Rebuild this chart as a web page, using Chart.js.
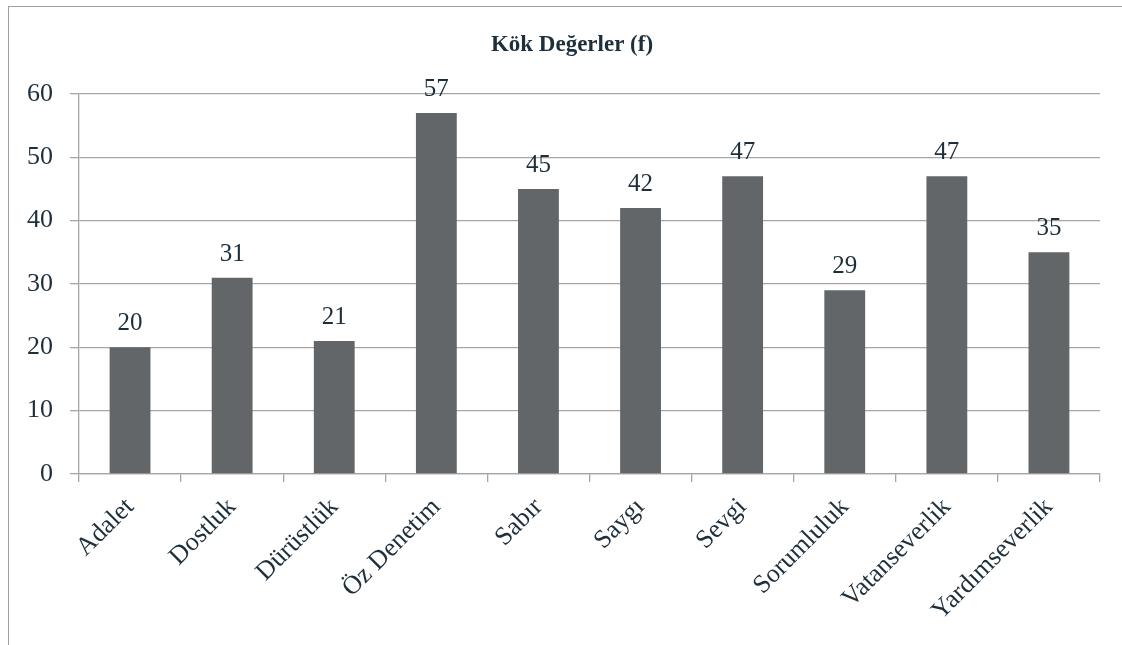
<!DOCTYPE html>
<html>
<head>
<meta charset="utf-8">
<script src="https://cdn.jsdelivr.net/npm/chart.js@4"></script>
<style>
  html, body { margin: 0; padding: 0; background: #fff; overflow: hidden; }
  #frame {
    position: absolute; left: 8px; top: 6px; width: 1130px; height: 660px;
    border-top: 1.5px solid #a0a0a0; border-left: 1.5px solid #a0a0a0;
  }
  #wrap { position: absolute; left: 0; top: 0; width: 1122px; height: 645px; }
</style>
</head>
<body>
<div id="frame"></div>
<div id="wrap"><canvas id="chart" width="1122" height="645"></canvas></div>
<script>
// ------------------------------
// Data
// ------------------------------
const categories = ["Adalet", "Dostluk", "Dürüstlük", "Öz Denetim", "Sabır", "Saygı", "Sevgi", "Sorumluluk", "Vatanseverlik", "Yardımseverlik"];
const counts = [20, 31, 21, 57, 45, 42, 47, 29, 47, 35];
const yTicks = [0, 10, 20, 30, 40, 50, 60];
const chartTitle = "Kök Değerler (f)";

const textColor = "#1e2f3c";
const gridColor = "#a6a6a6";
const serif = "'Liberation Serif', 'Times New Roman', serif";

// title + value labels drawn on the canvas (no datalabels plugin offline)
const labelsPlugin = {
  id: "valueLabels",
  afterDatasetsDraw(chart) {
    const ctx = chart.ctx;
    const meta = chart.getDatasetMeta(0);
    ctx.save();
    ctx.fillStyle = textColor;
    ctx.font = "25px " + serif;
    ctx.textAlign = "center";
    ctx.textBaseline = "alphabetic";
    meta.data.forEach((bar, i) => {
      ctx.fillText(String(counts[i]), bar.x, bar.y - 17);
    });
    ctx.font = "bold 23px " + serif;
    ctx.fillText(chartTitle, 572, 51);
    ctx.restore();
  }
};

new Chart(document.getElementById("chart"), {
  type: "bar",
  data: {
    labels: categories,
    datasets: [{
      data: counts,
      backgroundColor: "#636669",
      barPercentage: 0.8,
      categoryPercentage: 0.5
    }]
  },
  options: {
    responsive: false,
    animation: false,
    layout: { padding: { top: 94, right: 22, left: 0, bottom: 0 } },
    plugins: { legend: { display: false }, title: { display: false }, tooltip: { enabled: false } },
    scales: {
      y: {
        min: 0, max: 60,
        afterBuildTicks: (s) => { s.ticks = yTicks.map(v => ({ value: v })); },
        afterFit: (s) => { s.width = 79; },
        ticks: { color: textColor, font: { family: serif, size: 26 }, padding: 17 },
        grid: { color: gridColor, lineWidth: 1.3, tickLength: 9 },
        border: { color: gridColor, width: 1.3 }
      },
      x: {
        afterFit: (s) => { s.height = 171; },
        ticks: { color: textColor, font: { family: serif, size: 26 }, minRotation: 45, maxRotation: 45, padding: 10 },
        grid: { color: gridColor, lineWidth: 1.3, drawOnChartArea: false, tickLength: 8, offset: true },
        border: { color: gridColor, width: 1.3 }
      }
    }
  },
  plugins: [labelsPlugin]
});
</script>
</body>
</html>
